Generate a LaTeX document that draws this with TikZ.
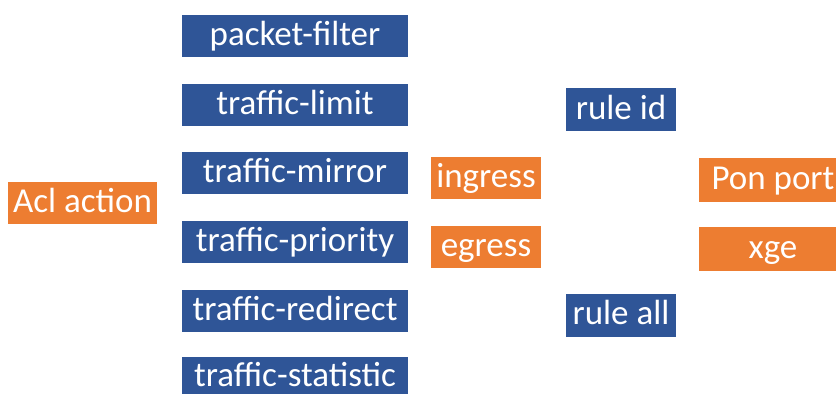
\documentclass[tikz,border=0pt]{standalone}
\usepackage{fontspec}
\setmainfont{Carlito}
\usepackage{tikz}
\usepackage{xcolor}

\definecolor{boxblue}{HTML}{2F5597}
\definecolor{boxorange}{HTML}{ED7D31}

\begin{document}
\begin{tikzpicture}[x=1pt,y=-1pt]
     \tikzstyle{item}=[rectangle,inner sep=0pt,text=white,font=\fontsize{35}{40}\selectfont,text height=26pt,text depth=7pt]
     \tikzstyle{action}=[item,fill=boxblue,minimum width=226pt,minimum height=42pt]
     \tikzstyle{dir}=[item,fill=boxorange,minimum width=110pt,minimum height=42pt]
     \tikzstyle{rule}=[item,fill=boxblue,minimum width=110pt,minimum height=43pt]
     \tikzstyle{port}=[item,fill=boxorange,minimum width=148pt,minimum height=44pt]
     \useasboundingbox (0,0) rectangle (836,394);
     \clip (0,0) rectangle (836,394);

     \node[item,fill=boxorange,minimum width=149pt,minimum height=42pt] (acl) at (82.5,203) {Acl action};

     \node[action] (pf) at (295,36) {packet-filter};
     \node[action] (tl) at (295,104.5) {traffic-limit};
     \node[action] (tm) at (295,173) {traffic-mirror};
     \node[action] (tp) at (295,241.5) {traffic-priority};
     \node[action] (tr) at (295,310.5) {traffic-redirect};
     % last box runs off the bottom edge
     \node[action,minimum height=37pt,text height=24pt,text depth=3pt] (ts) at (295,375.5) {traffic-statistic};

     \node[dir] (ing) at (486,178) {ingress};
     \node[dir] (egr) at (486,246.5) {egress};

     \node[rule] (rid) at (621,109.5) {rule id};
     \node[rule] (rall) at (621,315) {rule all};

     \node[port] (pon) at (773,180) {Pon port};
     \node[port] (xge) at (773,248.5) {xge};
\end{tikzpicture}
\end{document}
